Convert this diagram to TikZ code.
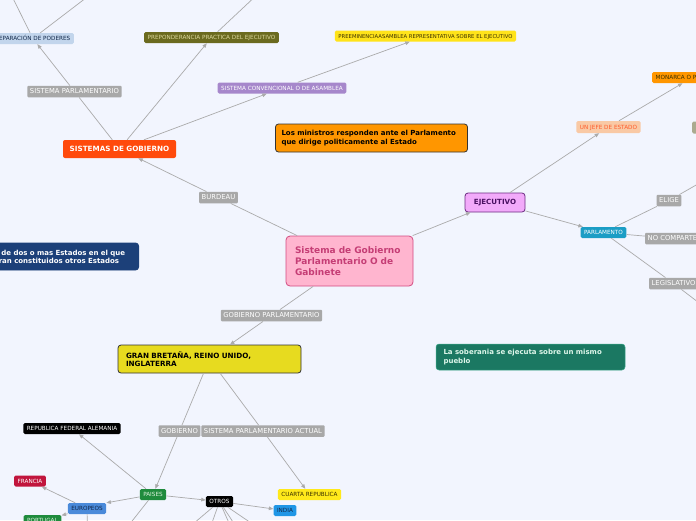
\documentclass[tikz,border=0pt]{standalone}
\usepackage{fontspec}
\setmainfont{DejaVu Sans}
\usetikzlibrary{arrows.meta}
\definecolor{bgc}{HTML}{F2F5FE}
\definecolor{lineg}{HTML}{ABABAB}
\definecolor{lblg}{HTML}{A8A8A8}
\definecolor{gobf}{HTML}{FFB5CF}
\definecolor{gobd}{HTML}{D24C82}
\definecolor{gobt}{HTML}{C53D75}
\definecolor{sgobf}{HTML}{FF4A0C}
\definecolor{sepf}{HTML}{C2D5EC}
\definecolor{prepf}{HTML}{6B6A1F}
\definecolor{prept}{HTML}{DCD89C}
\definecolor{convf}{HTML}{A687CB}
\definecolor{preef}{HTML}{FFE31A}
\definecolor{orng}{HTML}{FF9600}
\definecolor{ejecf}{HTML}{F2AAFA}
\definecolor{ejecd}{HTML}{6C2B82}
\definecolor{eject}{HTML}{4A1062}
\definecolor{jefef}{HTML}{F9C9A5}
\definecolor{jefet}{HTML}{FF5B2A}
\definecolor{cargof}{HTML}{ABAA8F}
\definecolor{parlf}{HTML}{1B9DC5}
\definecolor{gbf}{HTML}{E7DB1F}
\definecolor{fedf}{HTML}{1C4079}
\definecolor{sobf}{HTML}{1B7862}
\definecolor{sobd}{HTML}{3FA98C}
\definecolor{sobt}{HTML}{DDF6EA}
\definecolor{paisf}{HTML}{1F8B3D}
\definecolor{paist}{HTML}{DDF2DD}
\definecolor{europf}{HTML}{4A8ADA}
\definecolor{europt}{HTML}{12284A}
\definecolor{francf}{HTML}{C1153D}
\definecolor{indiaf}{HTML}{1F96E6}
\definecolor{cuartf}{HTML}{FFE91B}
\definecolor{darkt}{HTML}{3A3000}
\tikzset{
  box/.style={draw=#1, line width=0.8pt, rounded corners=3pt, align=left,
              inner xsep=8pt, inner ysep=0pt, font=\bfseries\fontsize{7.1}{8.5}\selectfont},
  tag/.style={fill=#1, rounded corners=1.5pt, inner xsep=3.5pt, inner ysep=0pt,
              minimum height=11pt, text height=4.1pt, text depth=0pt,
              font=\fontsize{5.7}{6.5}\selectfont},
  lbl/.style={fill=lblg, text=white, rounded corners=1pt, inner xsep=2.5pt, inner ysep=0pt,
              minimum height=11.5pt, text height=4.9pt, text depth=0pt,
              font=\fontsize{6.8}{7.5}\selectfont},
  flow/.style={-{Triangle[length=4.5pt,width=3.6pt]}, draw=lineg, line width=0.7pt},
  bare/.style={draw=lineg, line width=0.7pt}
}
\begin{document}
\begin{tikzpicture}[x=1pt,y=-1pt]
  \useasboundingbox[fill=bgc] (0,0) rectangle (696,520);

  % main topic
  \node[box=gobd, fill=gobf, text=gobt, rounded corners=4pt, minimum width=127pt,
        minimum height=50pt, text width=109pt, inner xsep=9pt,
        font=\bfseries\fontsize{9}{11}\selectfont] (gob) at (349.5,261)
        {Sistema de Gobierno\\Parlamentario O de\\Gabinete};

  % sistemas de gobierno branch
  \node[tag=sgobf, text=white, rounded corners=2pt, minimum width=113pt, minimum height=18pt,
        font=\bfseries\fontsize{7.2}{8}\selectfont, text height=5.2pt] (sgob) at (119.5,149) {SISTEMAS DE GOBIERNO};
  \node[lbl] (burdeau) at (218.5,197.5) {BURDEAU};
  \node[lbl] (sparl) at (74.5,91.5) {SISTEMA PARLAMENTARIO};
  \node[tag=sepf, text=europt, anchor=east] (sep) at (74,38.5) {SEPARACIÓN DE PODERES};
  \node[tag=prepf, text=prept] (prep) at (211.5,37.5) {PREPONDERANCIA PRACTICA DEL EJECUTIVO};
  \node[tag=convf, text=white] (conv) at (282,88) {SISTEMA CONVENCIONAL O DE ASAMBLEA};
  \node[tag=preef, text=darkt, font=\fontsize{5.3}{6}\selectfont] (pree) at (425.5,36)
        {PREEMINENCIAASAMBLEA REPRESENTATIVA SOBRE EL EJECUTIVO};
  \coordinate (sepa) at (-5,-38);
  \coordinate (sepb) at (133,-38);
  \coordinate (prepa) at (292,-38);

  % floating notes
  \node[box=black!80, fill=orng, text=black, minimum width=191pt, minimum height=28pt,
        text width=180pt, inner xsep=6pt, font=\bfseries\fontsize{7}{8.5}\selectfont] (minis) at (371.5,138)
        {Los ministros responden ante el Parlamento\\que dirige politicamente al Estado};
  \node[box=fedf, fill=fedf, text=white, anchor=east, minimum height=27pt, text width=176pt,
        inner xsep=7pt, font=\bfseries\fontsize{7}{8.5}\selectfont] (fed) at (139,256.5)
        {Federación de dos o mas Estados en el que\\se encuentran constituidos otros Estados};
  \node[box=sobd, line width=0.5pt, fill=sobf, text=sobt, minimum width=189pt, minimum height=26pt,
        text width=174pt, inner xsep=7.5pt, font=\bfseries\fontsize{7}{8.2}\selectfont] (sob) at (530.5,357)
        {La soberania se ejecuta sobre un mismo\\pueblo};

  % ejecutivo branch
  \node[box=ejecd, fill=ejecf, text=eject, align=center, minimum width=60pt, minimum height=19pt]
        (ejec) at (495,202.5) {EJECUTIVO};
  \node[tag=jefef, text=jefet, minimum height=12pt] (jefe) at (608.5,127) {UN JEFE DE ESTADO};
  \node[tag=orng, text=darkt, anchor=west] (monarca) at (652,77.5) {MONARCA O PRESIDENTE};
  \node[tag=cargof, minimum height=12pt, minimum width=30pt, anchor=west] (cargo) at (692,127.5) {};
  \node[tag=parlf, text=white] (parl) at (603.5,232.5) {PARLAMENTO};
  \node[lbl] (elige) at (669,200.5) {ELIGE};
  \node[lbl, anchor=west] (nocomp) at (645,238.5) {NO COMPARTE};
  \node[lbl, anchor=west] (legis) at (649,283.5) {LEGISLATIVO};
  \coordinate (eligex) at (740,160);
  \coordinate (nocompx) at (760,246);
  \coordinate (legisx) at (740,334);

  % gran bretana branch
  \node[lbl] (gparl) at (271.5,315.5) {GOBIERNO PARLAMENTARIO};
  \node[box=black!80, fill=gbf, text=black, minimum width=183pt, minimum height=28pt,
        text width=167pt, font=\bfseries\fontsize{7.2}{8}\selectfont] (gb) at (209.5,359)
        {GRAN BRETAÑA, REINO UNIDO,\\INGLATERRA};
  \node[lbl] (gobl) at (179.5,431) {GOBIERNO};
  \node[lbl] (spa) at (263,431) {SISTEMA PARLAMENTARIO ACTUAL};
  \node[tag=black, text=white] (ralem) at (72,428.5) {REPUBLICA FEDERAL ALEMANIA};
  \node[tag=paisf, text=paist] (paises) at (153,494.5) {PAISES};
  \node[tag=europf, text=europt] (europ) at (87,508.5) {EUROPEOS};
  \node[tag=francf, text=white] (francia) at (30,481) {FRANCIA};
  \node[tag=paisf, text=paist] (portugal) at (42.5,520.5) {PORTUGAL};
  \node[tag=black, text=white] (otros) at (219.5,501.5) {OTROS};
  \node[tag=indiaf, text=europt] (india) at (285,510.5) {INDIA};
  \node[tag=cuartf, text=darkt] (cuarta) at (309.5,494.5) {CUARTA REPUBLICA};
  \coordinate (europx) at (88,560);
  \coordinate (paisx) at (114,544);
  \coordinate (otra) at (154,557);
  \coordinate (otrb) at (200,557);
  \coordinate (otrc) at (244,557);
  \coordinate (otrd) at (256,557);
  \coordinate (otre) at (301,557);

  % connectors
  \draw[bare] (gob) -- (burdeau);
  \draw[flow] (burdeau) -- (sgob);
  \draw[bare] (sgob) -- (sparl);
  \draw[flow] (sparl) -- (sep);
  \draw[flow] (sep) -- (sepa);
  \draw[flow] (sep) -- (sepb);
  \draw[flow] (sgob) -- (prep);
  \draw[flow] (prep) -- (prepa);
  \draw[flow] (sgob) -- (conv);
  \draw[flow] (conv) -- (pree);
  \draw[flow] (gob) -- (ejec);
  \draw[flow] (ejec) -- (jefe);
  \draw[flow] (jefe) -- (monarca);
  \draw[flow] (ejec) -- (parl);
  \draw[bare] (parl) -- (elige);
  \draw[flow] (elige) -- (eligex);
  \draw[bare] (parl) -- (nocomp);
  \draw[flow] (nocomp) -- (nocompx);
  \draw[bare] (parl) -- (legis);
  \draw[flow] (legis) -- (legisx);
  \draw[bare] (gob) -- (gparl);
  \draw[flow] (gparl) -- (gb);
  \draw[bare] (gb) -- (gobl);
  \draw[flow] (gobl) -- (paises);
  \draw[bare] (gb) -- (spa);
  \draw[flow] (spa) -- (cuarta);
  \draw[flow] (paises) -- (ralem);
  \draw[flow] (paises) -- (europ.north east);
  \draw[flow] (paises) -- (otros);
  \draw[flow] (paises) -- (paisx);
  \draw[flow] (europ) -- (francia);
  \draw[flow] (europ) -- (portugal);
  \draw[flow] (europ) -- (europx);
  \draw[flow] (otros) -- (india);
  \foreach \t in {otra,otrb,otrc,otrd,otre}
    \draw[flow] (otros) -- (\t);
\end{tikzpicture}
\end{document}
